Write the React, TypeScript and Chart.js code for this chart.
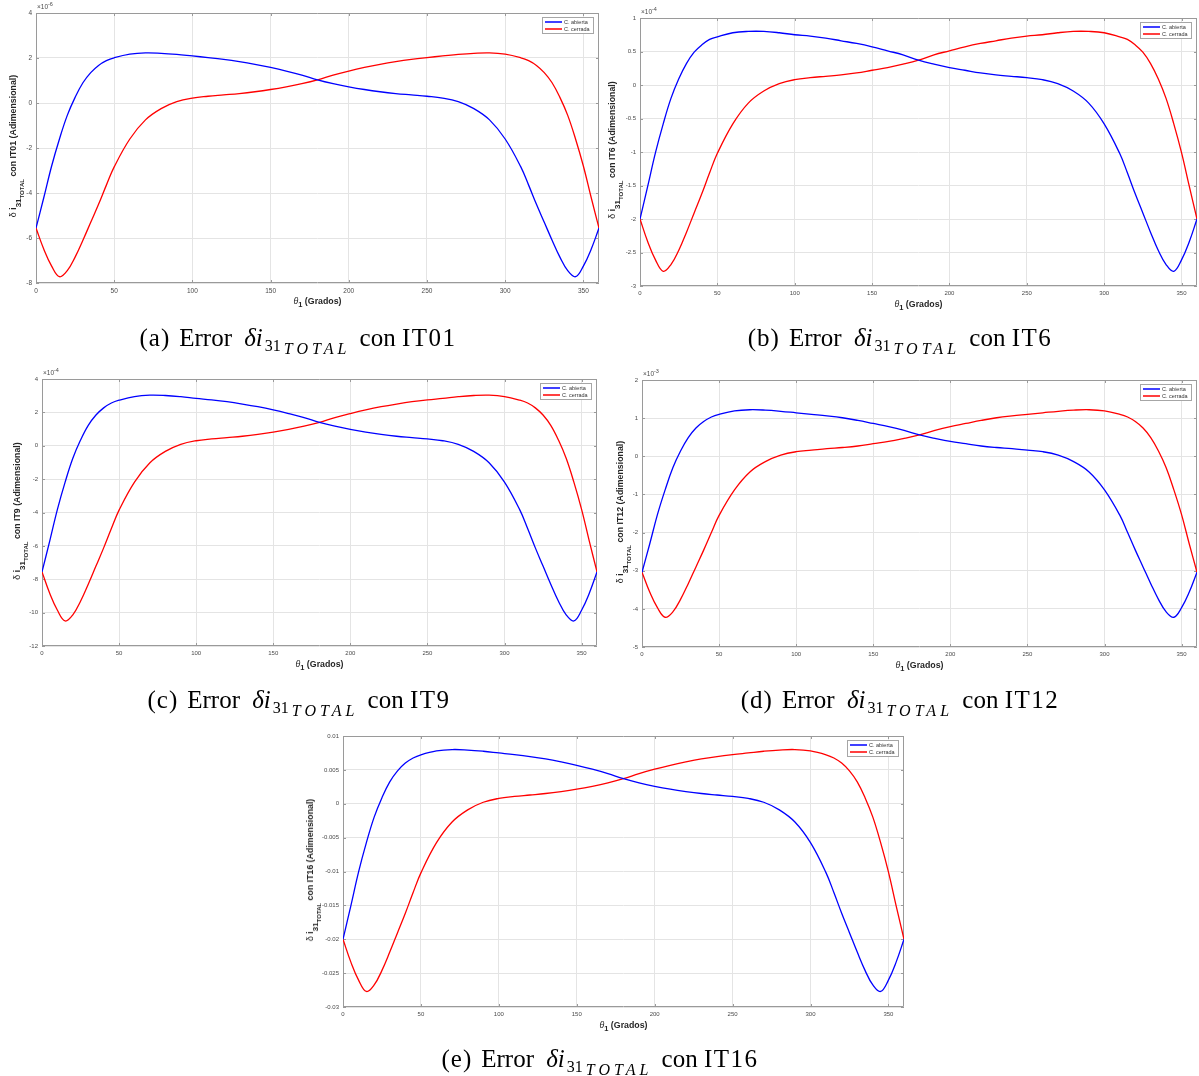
import React, { useEffect, useRef } from "react";
import { Chart, registerables } from "chart.js";
Chart.register(...registerables);

// θ1 sample angles (degrees)
const THETA = [0, 5, 10, 15, 20, 25, 30, 35, 40, 45, 50, 60, 70, 80, 90, 100, 110, 120, 130, 140, 150, 160, 170, 180, 190, 200, 210, 220, 230, 240, 250, 260, 270, 280, 290, 300, 310, 315, 320, 325, 330, 335, 340, 345, 350, 355, 360];
const X_TICKS = [0, 50, 100, 150, 200, 250, 300, 350];

// (a) IT01, ×10^-6
const BLUE_A = [-5.56, -4.2, -2.8, -1.6, -0.55, 0.25, 0.9, 1.35, 1.67, 1.88, 2.01, 2.17, 2.23, 2.21, 2.16, 2.09, 2.02, 1.94, 1.84, 1.72, 1.58, 1.42, 1.24, 1.03, 0.86, 0.72, 0.6, 0.5, 0.42, 0.36, 0.3, 0.22, 0.06, -0.25, -0.75, -1.6, -2.84, -3.65, -4.5, -5.3, -6.1, -6.85, -7.45, -7.72, -7.25, -6.5, -5.56];
const RED_A = [-5.56, -6.5, -7.25, -7.72, -7.45, -6.85, -6.1, -5.3, -4.5, -3.65, -2.84, -1.6, -0.75, -0.25, 0.06, 0.22, 0.3, 0.36, 0.42, 0.5, 0.6, 0.72, 0.86, 1.03, 1.24, 1.42, 1.58, 1.72, 1.84, 1.94, 2.02, 2.09, 2.16, 2.21, 2.23, 2.17, 2.01, 1.88, 1.67, 1.35, 0.9, 0.25, -0.55, -1.6, -2.8, -4.2, -5.56];
const Y_TICKS_A = [-8, -6, -4, -2, 0, 2, 4];

// (b) IT6, ×10^-4
const BLUE_B = [-2.0, -1.51, -1.01, -0.58, -0.2, 0.09, 0.32, 0.49, 0.6, 0.68, 0.72, 0.78, 0.8, 0.8, 0.78, 0.75, 0.73, 0.7, 0.66, 0.62, 0.57, 0.51, 0.45, 0.37, 0.31, 0.26, 0.22, 0.18, 0.15, 0.13, 0.11, 0.08, 0.02, -0.09, -0.27, -0.58, -1.02, -1.31, -1.62, -1.91, -2.2, -2.47, -2.68, -2.78, -2.61, -2.34, -2.0];
const RED_B = [-2.0, -2.34, -2.61, -2.78, -2.68, -2.47, -2.2, -1.91, -1.62, -1.31, -1.02, -0.58, -0.27, -0.09, 0.02, 0.08, 0.11, 0.13, 0.15, 0.18, 0.22, 0.26, 0.31, 0.37, 0.45, 0.51, 0.57, 0.62, 0.66, 0.7, 0.73, 0.75, 0.78, 0.8, 0.8, 0.78, 0.72, 0.68, 0.6, 0.49, 0.32, 0.09, -0.2, -0.58, -1.01, -1.51, -2.0];
const Y_TICKS_B = [-3, -2.5, -2, -1.5, -1, -0.5, 0, 0.5, 1];

// (c) IT9, ×10^-4
const BLUE_C = [-7.56, -5.71, -3.81, -2.18, -0.75, 0.34, 1.22, 1.84, 2.27, 2.56, 2.73, 2.95, 3.03, 3.01, 2.94, 2.84, 2.75, 2.64, 2.5, 2.34, 2.15, 1.93, 1.69, 1.4, 1.17, 0.98, 0.82, 0.68, 0.57, 0.49, 0.41, 0.3, 0.08, -0.34, -1.02, -2.18, -3.86, -4.96, -6.12, -7.21, -8.3, -9.32, -10.13, -10.5, -9.86, -8.84, -7.56];
const RED_C = [-7.56, -8.84, -9.86, -10.5, -10.13, -9.32, -8.3, -7.21, -6.12, -4.96, -3.86, -2.18, -1.02, -0.34, 0.08, 0.3, 0.41, 0.49, 0.57, 0.68, 0.82, 0.98, 1.17, 1.4, 1.69, 1.93, 2.15, 2.34, 2.5, 2.64, 2.75, 2.84, 2.94, 3.01, 3.03, 2.95, 2.73, 2.56, 2.27, 1.84, 1.22, 0.34, -0.75, -2.18, -3.81, -5.71, -7.56];
const Y_TICKS_C = [-12, -10, -8, -6, -4, -2, 0, 2, 4];

// (d) IT12, ×10^-3
const BLUE_D = [-3.04, -2.3, -1.53, -0.88, -0.3, 0.14, 0.49, 0.74, 0.91, 1.03, 1.1, 1.19, 1.22, 1.21, 1.18, 1.14, 1.1, 1.06, 1.01, 0.94, 0.86, 0.78, 0.68, 0.56, 0.47, 0.39, 0.33, 0.27, 0.23, 0.2, 0.16, 0.12, 0.03, -0.14, -0.41, -0.88, -1.55, -2.0, -2.46, -2.9, -3.34, -3.75, -4.08, -4.22, -3.97, -3.56, -3.04];
const RED_D = [-3.04, -3.56, -3.97, -4.22, -4.08, -3.75, -3.34, -2.9, -2.46, -2.0, -1.55, -0.88, -0.41, -0.14, 0.03, 0.12, 0.16, 0.2, 0.23, 0.27, 0.33, 0.39, 0.47, 0.56, 0.68, 0.78, 0.86, 0.94, 1.01, 1.06, 1.1, 1.14, 1.18, 1.21, 1.22, 1.19, 1.1, 1.03, 0.91, 0.74, 0.49, 0.14, -0.3, -0.88, -1.53, -2.3, -3.04];
const Y_TICKS_D = [-5, -4, -3, -2, -1, 0, 1, 2];

// (e) IT16
const BLUE_E = [-0.02, -0.0151, -0.01005, -0.00574, -0.00197, 0.0009, 0.00323, 0.00485, 0.006, 0.00675, 0.00722, 0.00779, 0.008, 0.00793, 0.00775, 0.0075, 0.00725, 0.00696, 0.00661, 0.00617, 0.00567, 0.0051, 0.00445, 0.0037, 0.00309, 0.00258, 0.00215, 0.0018, 0.00151, 0.00129, 0.00108, 0.00079, 0.00022, -0.0009, -0.00269, -0.00574, -0.0102, -0.0131, -0.01616, -0.01903, -0.0219, -0.02459, -0.02675, -0.02771, -0.02603, -0.02334, -0.02];
const RED_E = [-0.02, -0.02334, -0.02603, -0.02771, -0.02675, -0.02459, -0.0219, -0.01903, -0.01616, -0.0131, -0.0102, -0.00574, -0.00269, -0.0009, 0.00022, 0.00079, 0.00108, 0.00129, 0.00151, 0.0018, 0.00215, 0.00258, 0.00309, 0.0037, 0.00445, 0.0051, 0.00567, 0.00617, 0.00661, 0.00696, 0.00725, 0.0075, 0.00775, 0.00793, 0.008, 0.00779, 0.00722, 0.00675, 0.006, 0.00485, 0.00323, 0.0009, -0.00197, -0.00574, -0.01005, -0.0151, -0.02];
const Y_TICKS_E = [-0.03, -0.025, -0.02, -0.015, -0.01, -0.005, 0, 0.005, 0.01];

const SERIES_LABELS = ["C. abierta", "C. cerrada"];

type Rect = { l: number; t: number; r: number; b: number };
type PanelCfg = {
  letter: string;
  it: string;
  blue: number[];
  red: number[];
  yTicks: number[];
  exp: string | null;
  plot: Rect;
  box: { x: number; y: number; w: number; h: number };
  tickFont: number;
  yTitleGap: number;
  caption: { x: number; y: number };
};

const PANELS: PanelCfg[] = [
  { letter: "a", it: "IT01", blue: BLUE_A, red: RED_A, yTicks: Y_TICKS_A, exp: "-6", plot: { l: 36, t: 13, r: 599, b: 283 }, box: { x: 0, y: 0, w: 603, h: 300 }, tickFont: 6.5, yTitleGap: 22, caption: { x: 298, y: 339 } },
  { letter: "b", it: "IT6", blue: BLUE_B, red: RED_B, yTicks: Y_TICKS_B, exp: "-4", plot: { l: 640, t: 18, r: 1197, b: 286 }, box: { x: 600, y: 0, w: 599, h: 302 }, tickFont: 6, yTitleGap: 27, caption: { x: 900, y: 339 } },
  { letter: "c", it: "IT9", blue: BLUE_C, red: RED_C, yTicks: Y_TICKS_C, exp: "-4", plot: { l: 42, t: 379, r: 597, b: 646 }, box: { x: 0, y: 365, w: 600, h: 300 }, tickFont: 6, yTitleGap: 24, caption: { x: 299, y: 701 } },
  { letter: "d", it: "IT12", blue: BLUE_D, red: RED_D, yTicks: Y_TICKS_D, exp: "-3", plot: { l: 642, t: 380, r: 1197, b: 647 }, box: { x: 600, y: 365, w: 599, h: 300 }, tickFont: 6, yTitleGap: 21, caption: { x: 900, y: 701 } },
  { letter: "e", it: "IT16", blue: BLUE_E, red: RED_E, yTicks: Y_TICKS_E, exp: null, plot: { l: 343, t: 736, r: 904, b: 1007 }, box: { x: 300, y: 720, w: 610, h: 300 }, tickFont: 6, yTitleGap: 32, caption: { x: 600, y: 1060 } },
];

const FONT = '"Liberation Sans", Arial, Helvetica, sans-serif';
const FRAME = "#9a9a9a";

const framePlugin = {
  id: "matlabFrame",
  beforeDatasetsDraw(chart: any) {
    const { ctx, chartArea: a, scales } = chart;
    ctx.save();
    ctx.strokeStyle = FRAME;
    ctx.lineWidth = 1;
    ctx.beginPath();
    const L = 3;
    scales.x.ticks.forEach((t: any) => {
      const px = Math.round(scales.x.getPixelForValue(t.value)) + 0.5;
      ctx.moveTo(px, a.bottom);
      ctx.lineTo(px, a.bottom - L);
      ctx.moveTo(px, a.top);
      ctx.lineTo(px, a.top + L);
    });
    scales.y.ticks.forEach((t: any) => {
      const py = Math.round(scales.y.getPixelForValue(t.value)) + 0.5;
      ctx.moveTo(a.left, py);
      ctx.lineTo(a.left + L, py);
      ctx.moveTo(a.right, py);
      ctx.lineTo(a.right - L, py);
    });
    ctx.stroke();
    ctx.beginPath();
    ctx.rect(Math.round(a.left) + 0.5, Math.round(a.top) + 0.5, Math.round(a.right - a.left) - 1, Math.round(a.bottom - a.top) - 1);
    ctx.stroke();
    ctx.restore();
  },
};

const legendPlugin = {
  id: "matlabLegend",
  afterDatasetsDraw(chart: any) {
    const { ctx, chartArea: a } = chart;
    const w = 51;
    const h = 16;
    const x = Math.round(a.right - 6 - w);
    const y = Math.round(a.top + 4);
    ctx.save();
    ctx.fillStyle = "#ffffff";
    ctx.fillRect(x, y, w, h);
    ctx.strokeStyle = "#a6a6a6";
    ctx.lineWidth = 1;
    ctx.strokeRect(x + 0.5, y + 0.5, w, h);
    chart.data.datasets.forEach((ds: any, i: number) => {
      const ly = y + 5 + i * 7;
      ctx.strokeStyle = ds.borderColor;
      ctx.lineWidth = 1.5;
      ctx.beginPath();
      ctx.moveTo(x + 3, ly);
      ctx.lineTo(x + 20, ly);
      ctx.stroke();
      ctx.fillStyle = "#333333";
      ctx.font = `5.5px ${FONT}`;
      ctx.textBaseline = "middle";
      ctx.textAlign = "left";
      ctx.fillText(ds.label, x + 22, ly + 0.5);
    });
    ctx.restore();
  },
};

function PanelChart({ p }: { p: PanelCfg }) {
  const ref = useRef<HTMLCanvasElement>(null);
  useEffect(() => {
    const c = ref.current!;
    const mk = (label: string, color: string, vals: number[]) => ({
      label,
      data: THETA.map((t, i) => ({ x: t, y: vals[i] })),
      borderColor: color,
      borderWidth: 1.3,
      pointRadius: 0,
      tension: 0.4,
      fill: false,
    });
    const chart = new Chart(c, {
      type: "line",
      data: {
        datasets: [mk(SERIES_LABELS[0], "#0000ff", p.blue), mk(SERIES_LABELS[1], "#ff0000", p.red)],
      },
      options: {
        animation: false,
        responsive: false,
        maintainAspectRatio: false,
        layout: {
          autoPadding: false,
          padding: { left: 0, top: p.plot.t - p.box.y, right: p.box.x + p.box.w - p.plot.r, bottom: 0 },
        },
        plugins: { legend: { display: false }, tooltip: { enabled: false } },
        scales: {
          x: {
            type: "linear",
            min: 0,
            max: 360,
            afterBuildTicks: (s: any) => {
              s.ticks = X_TICKS.map((v) => ({ value: v }));
            },
            afterFit: (s: any) => {
              s.height = p.box.y + p.box.h - p.plot.b;
            },
            grid: { color: "#e4e4e4", drawTicks: false, lineWidth: 1 },
            border: { display: false },
            ticks: {
              padding: 4,
              autoSkip: false,
              maxRotation: 0,
              color: "#4a4a4a",
              font: { family: FONT, size: p.tickFont },
              callback: (v: any) => String(v),
            },
          },
          y: {
            type: "linear",
            min: p.yTicks[0],
            max: p.yTicks[p.yTicks.length - 1],
            afterBuildTicks: (s: any) => {
              s.ticks = p.yTicks.map((v) => ({ value: v }));
            },
            afterFit: (s: any) => {
              s.width = p.plot.l - p.box.x;
            },
            grid: { color: "#e4e4e4", drawTicks: false, lineWidth: 1 },
            border: { display: false },
            ticks: {
              padding: 4,
              autoSkip: false,
              color: "#4a4a4a",
              font: { family: FONT, size: p.tickFont },
              callback: (v: any) => String(v),
            },
          },
        },
      } as any,
      plugins: [framePlugin, legendPlugin],
    });
    return () => chart.destroy();
  }, [p]);
  return (
    <canvas
      ref={ref}
      width={p.box.w}
      height={p.box.h}
      style={{ position: "absolute", left: p.box.x, top: p.box.y, width: p.box.w, height: p.box.h }}
    />
  );
}

function YTitle({ p }: { p: PanelCfg }) {
  const cx = p.plot.l - p.yTitleGap;
  const cy = (p.plot.t + p.plot.b) / 2 - 2;
  return (
    <div style={{ position: "absolute", left: cx, top: cy, width: 0, height: 0 }}>
      <div
        style={{
          position: "absolute",
          left: 0,
          top: 0,
          transform: "translate(-50%,-50%) rotate(-90deg)",
          whiteSpace: "nowrap",
          font: `bold 8.8px ${FONT}`,
          lineHeight: "11px",
          color: "#262626",
        }}
      >
        <span style={{ fontWeight: "normal" }}>δ </span>i
        <span style={{ position: "relative", top: 4.5, fontSize: 8 }}>31</span>
        <span style={{ position: "relative", top: 7.5, fontSize: 6 }}>TOTAL</span>
        {"  "}con {p.it} (Adimensional)
      </div>
    </div>
  );
}

function XTitle({ p }: { p: PanelCfg }) {
  const cx = (p.plot.l + p.plot.r) / 2;
  const cy = p.plot.b + 18;
  return (
    <div
      style={{
        position: "absolute",
        left: cx,
        top: cy,
        transform: "translate(-50%,-50%)",
        whiteSpace: "nowrap",
        font: `bold 8.8px ${FONT}`,
        lineHeight: "11px",
        color: "#262626",
      }}
    >
      <i style={{ fontWeight: "normal" }}>θ</i>
      <span style={{ position: "relative", top: 3, fontSize: 7.5 }}>1</span> (Grados)
    </div>
  );
}

function ExpLabel({ p }: { p: PanelCfg }) {
  if (!p.exp) return null;
  return (
    <div
      style={{
        position: "absolute",
        left: p.plot.l + 1,
        top: p.plot.t - 10,
        whiteSpace: "nowrap",
        font: `6.5px ${FONT}`,
        lineHeight: "8px",
        color: "#4a4a4a",
      }}
    >
      ×10<span style={{ position: "relative", top: -3, fontSize: 5.5 }}>{p.exp}</span>
    </div>
  );
}

function Caption({ p }: { p: PanelCfg }) {
  return (
    <div
      style={{
        position: "absolute",
        left: p.caption.x,
        top: p.caption.y,
        transform: "translate(-50%,-50%)",
        whiteSpace: "nowrap",
        fontFamily: '"Liberation Serif", "DejaVu Serif", serif',
        fontSize: 25,
        lineHeight: "30px",
        color: "#000",
      }}
    >
      <span style={{ marginRight: 9, letterSpacing: 1 }}>({p.letter})</span>Error{" "}
      <i style={{ marginLeft: 6, marginRight: 2 }}>δi</i>
      <span style={{ position: "relative", top: 5, fontSize: 16 }}>31</span>
      <i style={{ position: "relative", top: 8, fontSize: 16, letterSpacing: 4, marginLeft: 3 }}>TOTAL</i>
      <span style={{ marginLeft: 3 }}> con </span>
      <span style={{ letterSpacing: 1.5 }}>{p.it}</span>
    </div>
  );
}

export default function App() {
  return (
    <div>
      {PANELS.map((p) => (
        <React.Fragment key={p.letter}>
          <PanelChart p={p} />
          <YTitle p={p} />
          <XTitle p={p} />
          <ExpLabel p={p} />
          <Caption p={p} />
        </React.Fragment>
      ))}
    </div>
  );
}
